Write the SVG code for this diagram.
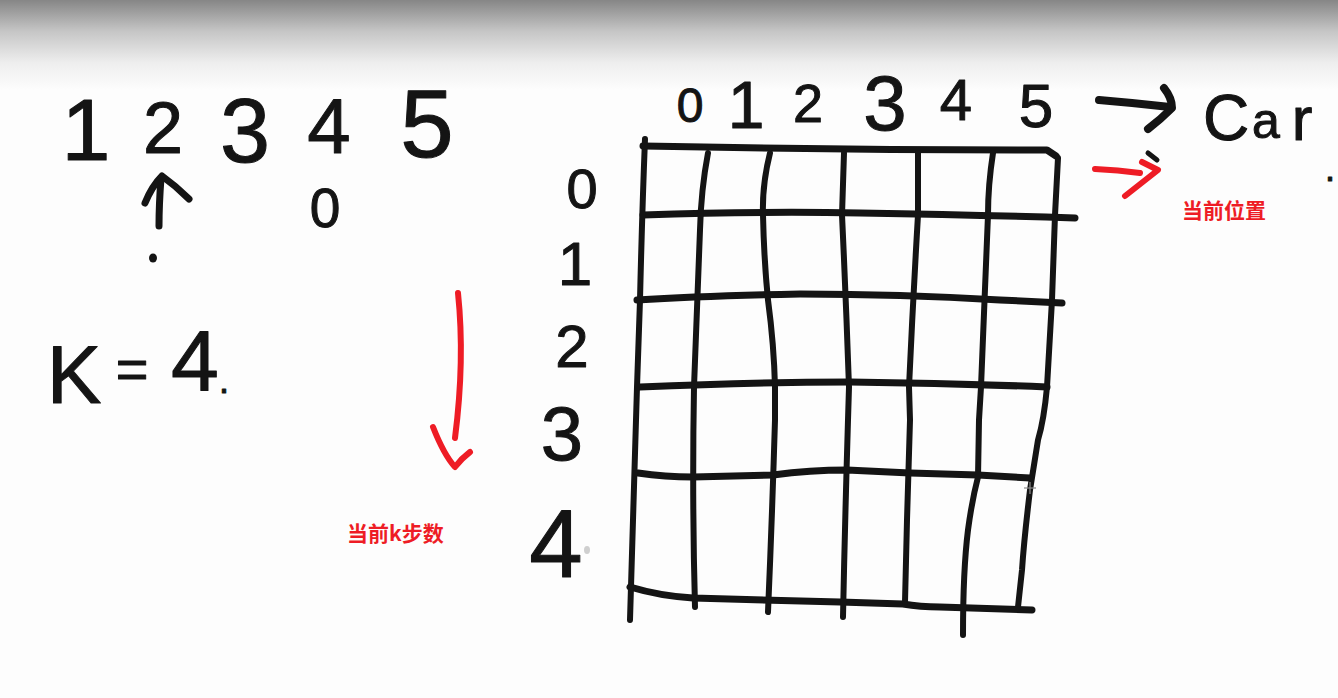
<svg xmlns="http://www.w3.org/2000/svg" width="1338" height="698" viewBox="0 0 1338 698">
<defs>
<linearGradient id="topShade" x1="0" y1="0" x2="0" y2="90" gradientUnits="userSpaceOnUse">
<stop offset="0" stop-color="#868686"/>
<stop offset="0.35" stop-color="#c6c6c6"/>
<stop offset="0.7" stop-color="#eeeeee"/>
<stop offset="1" stop-color="#fdfdfd"/>
</linearGradient>
<style>
.hw{font-family:"Liberation Sans","DejaVu Sans",sans-serif;fill:#141414;stroke:#141414;stroke-width:1;stroke-linejoin:round;text-anchor:middle}
.ink{fill:none;stroke:#141414;stroke-linecap:round;stroke-linejoin:round}
.gh{fill:none;stroke:#141414;stroke-width:7;stroke-linecap:round;stroke-linejoin:round}
.gv{fill:none;stroke:#141414;stroke-width:6;stroke-linecap:round;stroke-linejoin:round}
.red{fill:none;stroke:#ee1c25;stroke-width:6;stroke-linecap:round;stroke-linejoin:round}
.lbl{font-family:"Noto Sans CJK SC","Liberation Sans",sans-serif;font-weight:bold;font-size:21px;fill:#ee1c25}
</style>
</defs>
<rect x="0" y="0" width="1338" height="698" fill="#fdfdfd"/>
<rect x="0" y="0" width="1338" height="90" fill="url(#topShade)"/>

<g id="sequence">
<text class="hw" x="86" y="160" font-size="88">1</text>
<text class="hw" x="163" y="153" font-size="72">2</text>
<text class="hw" x="245" y="162" font-size="90">3</text>
<text class="hw" x="329" y="153" font-size="78">4</text>
<text class="hw" x="427" y="157" font-size="96">5</text>
<text class="hw" x="325" y="227" font-size="55">0</text>
<path class="ink" stroke-width="7" d="M161,178 Q159,205 159,226"/>
<path class="ink" stroke-width="7" d="M145,203 Q152,186 162,176 Q176,186 189,199"/>
<ellipse cx="153" cy="258" rx="4" ry="4.5" fill="#141414"/>
</g>

<g id="k-value">
<text class="hw" x="74" y="403" font-size="82">K</text>
<text class="hw" x="132" y="388" font-size="56">=</text>
<text class="hw" x="195" y="390" font-size="86">4</text>
<text class="hw" x="224" y="393" font-size="36">.</text>
</g>

<g id="column-labels">
<text class="hw" x="690" y="122" font-size="48">0</text>
<text class="hw" x="746" y="128" font-size="66">1</text>
<text class="hw" x="808" y="122" font-size="54">2</text>
<text class="hw" x="885" y="130" font-size="78">3</text>
<text class="hw" x="956" y="120" font-size="58">4</text>
<text class="hw" x="1036" y="127" font-size="62">5</text>
</g>

<g id="row-labels">
<text class="hw" x="582" y="208" font-size="56">0</text>
<text class="hw" x="575" y="285" font-size="62">1</text>
<text class="hw" x="572" y="367" font-size="60">2</text>
<text class="hw" x="562" y="460" font-size="76">3</text>
<text class="hw" x="556" y="577" font-size="96">4</text>
<ellipse cx="587" cy="550" rx="3" ry="4" fill="#cfcfcf"/>
</g>

<g id="car-label">
<path class="ink" stroke-width="8" d="M1099,100 Q1135,103 1170,107"/>
<path class="ink" stroke-width="8" d="M1164,88 Q1172,98 1172,108 Q1160,120 1148,129"/>
<text class="hw"><tspan x="1226" y="140" font-size="64">C</tspan><tspan x="1266" y="138" font-size="50">a</tspan><tspan x="1302" y="140" font-size="62">r</tspan><tspan x="1330" y="181" font-size="36">.</tspan></text>
</g>

<g id="grid">
<path class="gh" d="M643,146 Q850,150 1047,150 L1056,156"/>
<path class="gh" d="M643,215 Q760,211 860,213 Q980,215 1075,218"/>
<path class="gh" d="M637,300 Q700,296 800,294 Q900,294 1000,300 L1062,303"/>
<path class="gh" d="M640,387 Q750,382 850,382 Q950,383 1047,387"/>
<path class="gh" d="M638,473 Q665,477 693,477 L773,475 Q810,470 847,470 L910,473 L978,475 L1030,478"/>
<path class="gh" d="M630,587 Q660,596 693,598 L840,602 L903,604 Q920,607 940,607 L1032,610"/>
<path class="gv" d="M645,139 Q642,215 640,300 L637,387 L636,420 L630,620"/>
<path class="gv" d="M708,153 Q701,190 700,230 L694,387 Q692,500 695,607"/>
<path class="gv" d="M770,153 Q762,185 763,215 Q764,260 768,300 Q774,345 775,387 L775,420 Q772,520 768,612"/>
<path class="gv" d="M844,153 L842,215 Q846,300 849,387 L848,420 Q845,520 843,617"/>
<path class="gv" d="M918,153 L918,215 Q913,300 909,387 L910,420 L907,520 L905,602"/>
<path class="gv" d="M993,153 Q988,185 988,215 L981,387 L979,420 L978,477 Q972,500 968,530 Q963,570 963,635"/>
<path class="gv" d="M1058,158 L1055,215 L1052,300 L1047,387 Q1044,420 1038,440 L1030,490 Q1024,540 1022,570 L1018,607"/>
<g stroke="#8a8a8a" stroke-width="1.2">
<line x1="1024" y1="488" x2="1036" y2="488"/>
<line x1="1030" y1="482" x2="1030" y2="494"/>
</g>
</g>

<g id="current-position">
<path class="ink" stroke-width="5" d="M1148,153 L1157,160"/>
<path class="red" d="M1095,169 Q1118,170 1140,173"/>
<path class="red" d="M1142,162 L1158,170 L1125,196"/>
<text class="lbl" x="1182" y="218">当前位置</text>
</g>

<g id="current-k-steps">
<path class="red" d="M458,293 Q465,360 455,438"/>
<path class="red" d="M433,427 Q444,455 455,467 Q462,458 470,452"/>
<text class="lbl" x="347" y="541">当前k步数</text>
</g>
</svg>
